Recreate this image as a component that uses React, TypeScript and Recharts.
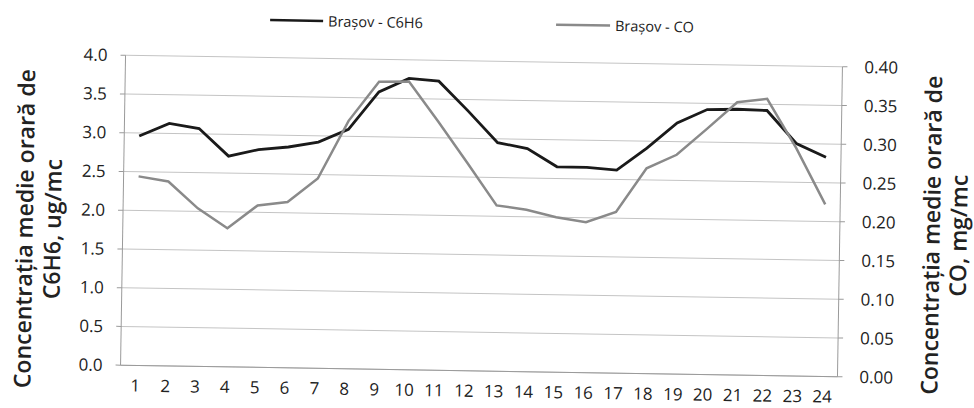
import React from 'react';
import { LineChart, Line, XAxis, YAxis, CartesianGrid, Legend } from 'recharts';

const hours = ['1','2','3','4','5','6','7','8','9','10','11','12','13','14','15','16','17','18','19','20','21','22','23','24'];
const c6h6Values = [2.96, 3.13, 3.07, 2.72, 2.81, 2.85, 2.92, 3.09, 3.58, 3.76, 3.73, 3.35, 2.95, 2.88, 2.65, 2.65, 2.62, 2.91, 3.24, 3.42, 3.43, 3.42, 3.0, 2.83];
const coValues = [0.244, 0.238, 0.204, 0.179, 0.209, 0.214, 0.245, 0.32, 0.371, 0.372, 0.321, 0.268, 0.214, 0.209, 0.2, 0.194, 0.208, 0.265, 0.283, 0.317, 0.352, 0.357, 0.294, 0.222];
const leftTicks = [0, 0.5, 1.0, 1.5, 2.0, 2.5, 3.0, 3.5, 4.0];
const rightTicks = [0, 0.05, 0.1, 0.15, 0.2, 0.25, 0.3, 0.35, 0.4];
const seriesNames = ['Brașov - C6H6', 'Brașov - CO'];
const leftTitle = ['Concentrația medie orară de', 'C6H6, ug/mc'];
const rightTitle = ['Concentrația medie orară de', 'CO, mg/mc'];

const data = hours.map((h, i) => ({ hour: h, c6h6: c6h6Values[i], co: coValues[i] }));

const FONT = '"Open Sans", "DejaVu Sans", sans-serif';
const BLACK = '#1a1a1a';
const GRAY = '#8a8a8a';

const renderLeftTitle = () => (
  <g fontFamily={FONT} fontSize={23} fontWeight={600} fill="#222">
    <text x={0} y={0} transform="translate(24,236) rotate(-90)" textAnchor="middle" dominantBaseline="central">{leftTitle[0]}</text>
    <text x={0} y={0} transform="translate(52,236) rotate(-90)" textAnchor="middle" dominantBaseline="central">{leftTitle[1]}</text>
  </g>
);

const renderRightTitle = () => (
  <g fontFamily={FONT} fontSize={23} fontWeight={600} fill="#222">
    <text x={0} y={0} transform="translate(931,228) rotate(-90)" textAnchor="middle" dominantBaseline="central">{rightTitle[0]}</text>
    <text x={0} y={0} transform="translate(958,228) rotate(-90)" textAnchor="middle" dominantBaseline="central">{rightTitle[1]}</text>
  </g>
);

const renderLegend = () => (
  <svg width={974} height={45} style={{ display: 'block' }}>
    <line x1={267} y1={23.5} x2={320} y2={23.5} stroke={BLACK} strokeWidth={2.5} />
    <text x={325} y={23.5} fontFamily={FONT} fontSize={14.5} fill="#222" dominantBaseline="central">{seriesNames[0]}</text>
    <line x1={553} y1={23.5} x2={607} y2={23.5} stroke={GRAY} strokeWidth={2.5} />
    <text x={612} y={23.5} fontFamily={FONT} fontSize={14.5} fill="#222" dominantBaseline="central">{seriesNames[1]}</text>
  </svg>
);

export default function App() {
  return (
    <div
      style={{
        position: 'absolute',
        left: 0,
        top: 0,
        width: 974,
        height: 408,
        background: '#fff',
        transform: 'rotate(0.92deg)',
        transformOrigin: '483px 216px',
      }}
    >
      <LineChart width={974} height={408} data={data} margin={{ top: 61, right: 0, bottom: 0, left: 0 }}>
        <CartesianGrid yAxisId="left" vertical={false} stroke="#c4c4c4" strokeWidth={1} />
        <XAxis
          dataKey="hour"
          height={37}
          padding={{ left: 15, right: 15 }}
          interval={0}
          tickLine={false}
          tickSize={5}
          tickMargin={9}
          axisLine={{ stroke: '#9a9a9a' }}
          tick={{ fontFamily: FONT, fontSize: 17, fill: '#222' }}
        />
        <YAxis
          yAxisId="left"
          width={123}
          domain={[0, 4]}
          ticks={leftTicks}
          tickFormatter={(v: number) => v.toFixed(1)}
          tickSize={5}
          tickMargin={13}
          axisLine={{ stroke: '#9a9a9a' }}
          tickLine={{ stroke: '#9a9a9a' }}
          tick={{ fontFamily: FONT, fontSize: 17, fill: '#222' }}
          label={renderLeftTitle}
        />
        <YAxis
          yAxisId="right"
          orientation="right"
          width={134}
          domain={[0, 0.4]}
          ticks={rightTicks}
          tickFormatter={(v: number) => v.toFixed(2)}
          tickSize={5}
          tickMargin={17}
          axisLine={{ stroke: '#9a9a9a' }}
          tickLine={{ stroke: '#9a9a9a' }}
          tick={{ fontFamily: FONT, fontSize: 17, fill: '#222' }}
          label={renderRightTitle}
        />
        <Legend
          layout="vertical"
          align="center"
          verticalAlign="middle"
          wrapperStyle={{ left: 0, top: 0, width: 974, height: 45 }}
          content={renderLegend}
        />
        <Line
          yAxisId="left"
          type="linear"
          dataKey="c6h6"
          name={seriesNames[0]}
          stroke={BLACK}
          strokeWidth={2.8}
          dot={false}
          activeDot={false}
          isAnimationActive={false}
        />
        <Line
          yAxisId="right"
          type="linear"
          dataKey="co"
          name={seriesNames[1]}
          stroke={GRAY}
          strokeWidth={2.5}
          dot={false}
          activeDot={false}
          isAnimationActive={false}
        />
      </LineChart>
    </div>
  );
}
